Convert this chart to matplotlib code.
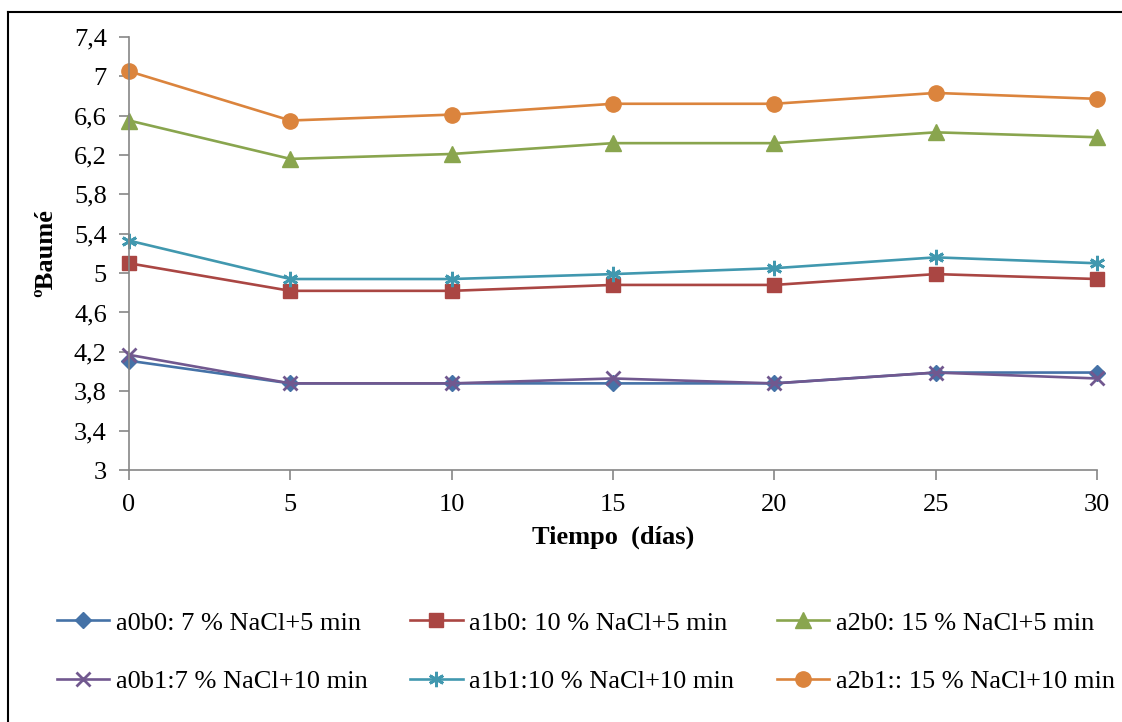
import matplotlib
matplotlib.use("Agg")
import matplotlib.pyplot as plt
from matplotlib.lines import Line2D

dias = [0, 5, 10, 15, 20, 25, 30]

a0b0 = [4.11, 3.88, 3.88, 3.88, 3.88, 3.99, 3.99]
a1b0 = [5.10, 4.82, 4.82, 4.88, 4.88, 4.99, 4.94]
a2b0 = [6.55, 6.16, 6.21, 6.32, 6.32, 6.43, 6.38]
a0b1 = [4.17, 3.88, 3.88, 3.93, 3.88, 3.99, 3.93]
a1b1 = [5.33, 4.94, 4.94, 4.99, 5.05, 5.16, 5.10]
a2b1 = [7.05, 6.55, 6.61, 6.72, 6.72, 6.83, 6.77]

y_ticks = [3, 3.4, 3.8, 4.2, 4.6, 5, 5.4, 5.8, 6.2, 6.6, 7, 7.4]
y_labels = ["3", "3,4", "3,8", "4,2", "4,6", "5", "5,4", "5,8", "6,2", "6,6", "7", "7,4"]

etiquetas = ["a0b0: 7 % NaCl+5 min", "a1b0: 10 % NaCl+5 min", "a2b0: 15 % NaCl+5 min",
             "a0b1:7 % NaCl+10 min", "a1b1:10 % NaCl+10 min", "a2b1:: 15 % NaCl+10 min"]

plt.rcParams['font.family'] = ['Liberation Serif', 'DejaVu Serif']

fig = plt.figure(figsize=(11.22, 7.22), dpi=100)
ax = fig.add_axes([0.115, 0.349, 0.8627, 0.600])

lw = 1.9
l1, = ax.plot(dias, a0b0, color='#4572A7', lw=lw, marker='D', ms=8, label=etiquetas[0])
l2, = ax.plot(dias, a1b0, color='#AA4643', lw=lw, marker='s', ms=10, label=etiquetas[1])
l3, = ax.plot(dias, a2b0, color='#89A54E', lw=lw, marker='^', ms=11, label=etiquetas[2])
l4, = ax.plot(dias, a0b1, color='#71588F', lw=lw, marker='x', ms=10, mew=2, label=etiquetas[3])
l5, = ax.plot(dias, a1b1, color='#4198AF', lw=lw, marker=(6, 2, 0), ms=11, mew=2, label=etiquetas[4])
l6, = ax.plot(dias, a2b1, color='#DB843D', lw=lw, marker='o', ms=11, label=etiquetas[5])

ax.set_xlim(0, 30)
ax.set_ylim(3, 7.4)
ax.set_xticks(dias)
ax.set_yticks(y_ticks)
ax.set_yticklabels(y_labels)

for s in ['top', 'right']:
    ax.spines[s].set_visible(False)
for s in ['left', 'bottom']:
    ax.spines[s].set_color('#868686')
    ax.spines[s].set_linewidth(1.2)
    ax.spines[s].set_clip_on(False)
ax.tick_params(colors='#868686', labelcolor='black', labelsize=19, length=7, width=1.2)
ax.tick_params(axis='x', pad=10)
ax.tick_params(axis='y', pad=9)
for line in ax.lines:
    line.set_clip_on(False)

ax.set_xlabel("Tiempo  (días)", fontsize=19, fontweight='bold', labelpad=7)
ax.set_ylabel("ºBaumé", fontsize=19, fontweight='bold', labelpad=12)

handles = [l1, l4, l2, l5, l3, l6]
fig.legend(handles, [h.get_label() for h in handles], ncol=3, loc='upper left',
           bbox_to_anchor=(0.041, 0.168), frameon=False, fontsize=19,
           handlelength=2.0, handletextpad=0.25, columnspacing=1.6,
           labelspacing=1.32, borderaxespad=0)

# marco recortado (arriba e izquierda)
fig.add_artist(Line2D([8 / 1122, 1.0], [1 - 12 / 722, 1 - 12 / 722], transform=fig.transFigure,
                      color='black', lw=1.5))
fig.add_artist(Line2D([8 / 1122, 8 / 1122], [0.0, 1 - 12 / 722], transform=fig.transFigure,
                      color='black', lw=1.5))

fig.savefig("out.png", dpi=100)
